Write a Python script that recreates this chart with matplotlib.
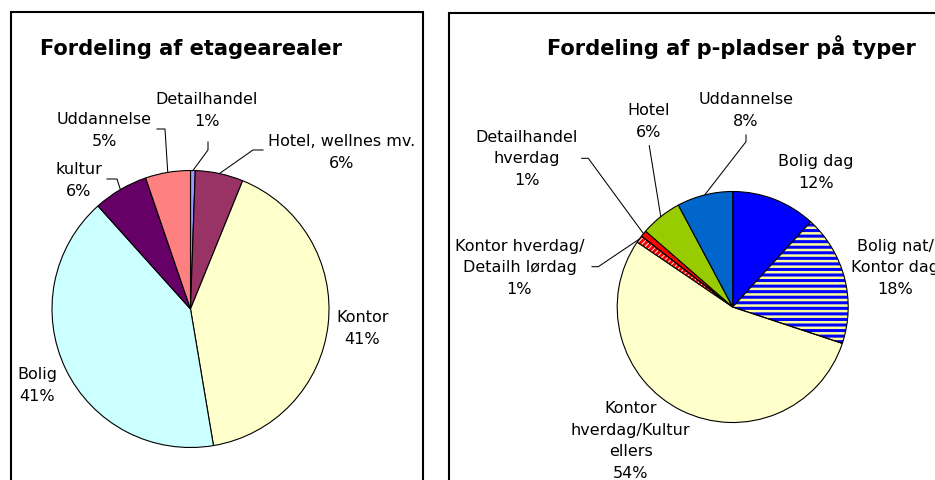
import numpy as np
import matplotlib
matplotlib.use("Agg")
import matplotlib.pyplot as plt
from matplotlib.patches import Rectangle, Wedge

plt.rcParams['font.family'] = ['DejaVu Sans']
plt.rcParams['hatch.linewidth'] = 2.2

W, H = 935, 480
LINJE = 21  # pixels between label baselines

# Fordeling af etagearealer (clockwise from 12 o'clock)
areal_navne = ['Detailhandel', 'Hotel, wellnes mv.', 'Kontor', 'Bolig', 'kultur', 'Uddannelse']
areal_pct = [0.55, 5.6, 41.2, 41.0, 6.4, 5.25]
areal_farver = ['#9999FF', '#993366', '#FFFFCC', '#CCFFFF', '#660066', '#FF8080']

# Fordeling af p-pladser paa typer (clockwise from 12 o'clock)
plads_navne = ['Bolig dag', 'Bolig nat/\nKontor dag', 'Kontor\nhverdag/Kultur\nellers',
               'Kontor hverdag/\nDetailh lørdag', 'Detailhandel\nhverdag', 'Hotel', 'Uddannelse']
plads_pct = [11.8, 18.3, 54.4, 1.0, 0.9, 5.8, 7.8]
plads_farver = ['#0000FF', '#FFFF99', '#FFFFCC', '#FFFFFF', '#FF0000', '#99CC00', '#0066CC']
plads_skravering = [None, ('---', '#0000FF'), None, ('//////', '#FF0000'), None, None, None]

# label placement in pixels (text centre x, first baseline y) and leader lines
areal_tekst = [(207, 105), (342, 147), (362.5, 323), (37, 380), (78.5, 175), (104, 125)]
areal_streg = [((208, 142), (208, 150)), ((263, 150), (253, 150)), None, None,
               ((107, 179), (117, 179)), ((157, 129), (165, 129))]
plads_tekst = [(816, 166.7), (895, 251.7), (630.5, 415), (519.5, 251.7),
               (526.7, 143), (649, 116), (746, 105)]
plads_streg = [None, None, None, ((592, 266.7), (598.3, 266.7)),
               ((581.7, 158.3), (588.3, 158.3)), ((649.3, 145.7), (649.3, 146)),
               ((746, 135), (746, 141.7))]

fig = plt.figure(figsize=(W / 100, H / 100), dpi=100)
ax = fig.add_axes([0, 0, 1, 1])


def tegn_lagkage(pct, farver, navne, centrum, r, tekst, streg, skravering=None):
    cx, cy = centrum
    wedges, _ = ax.pie(pct, colors=farver, startangle=90, counterclock=False,
                       center=(cx, H - cy), radius=r,
                       wedgeprops=dict(edgecolor='black', linewidth=0.8))
    for i, w in enumerate(wedges):
        if skravering and skravering[i]:
            hatch, hc = skravering[i]
            w.set_hatch(hatch)
            w.set_edgecolor(hc)
            w.set_linewidth(0)
            ax.add_patch(Wedge(w.center, w.r, w.theta1, w.theta2, fill=False,
                               edgecolor='black', linewidth=0.8, zorder=w.get_zorder() + 0.1))
        etiket = f"{navne[i]}\n{pct[i]:.0f}%"
        tx, ty = tekst[i]
        # baseline alignment anchors the last line
        ty_sidste = ty + etiket.count('\n') * LINJE
        ax.text(tx, H - ty_sidste, etiket, ha='center', va='baseline',
                multialignment='center', fontsize=11.5, linespacing=1.55)
        if streg[i]:
            (x0, y0), (x1, y1) = streg[i]
            ang = np.deg2rad((w.theta1 + w.theta2) / 2)
            ex = w.center[0] + w.r * np.cos(ang)
            ey = w.center[1] + w.r * np.sin(ang)
            ax.plot([x0, x1, ex], [H - y0, H - y1, ey], color='black', lw=0.75)


tegn_lagkage(areal_pct, areal_farver, areal_navne, (190.5, 309), 138.5, areal_tekst, areal_streg)
tegn_lagkage(plads_pct, plads_farver, plads_navne, (732.7, 307), 115.5, plads_tekst, plads_streg,
             plads_skravering)

ax.text(190.5, H - 55, 'Fordeling af etagearealer', fontsize=15.1, fontweight='bold',
        ha='center', va='baseline')
ax.text(731.6, H - 55, 'Fordeling af p-pladser på typer', fontsize=15.1, fontweight='bold',
        ha='center', va='baseline')

ax.add_patch(Rectangle((11, -20), 412, H - 12 + 20, fill=False, edgecolor='black', lw=1.5))
ax.add_patch(Rectangle((448.5, -20), 600, H - 13.3 + 20, fill=False, edgecolor='black', lw=1.5))

ax.set_xlim(0, W)
ax.set_ylim(0, H)
ax.set_aspect('equal')
ax.axis('off')

fig.savefig('out.png', dpi=100)
